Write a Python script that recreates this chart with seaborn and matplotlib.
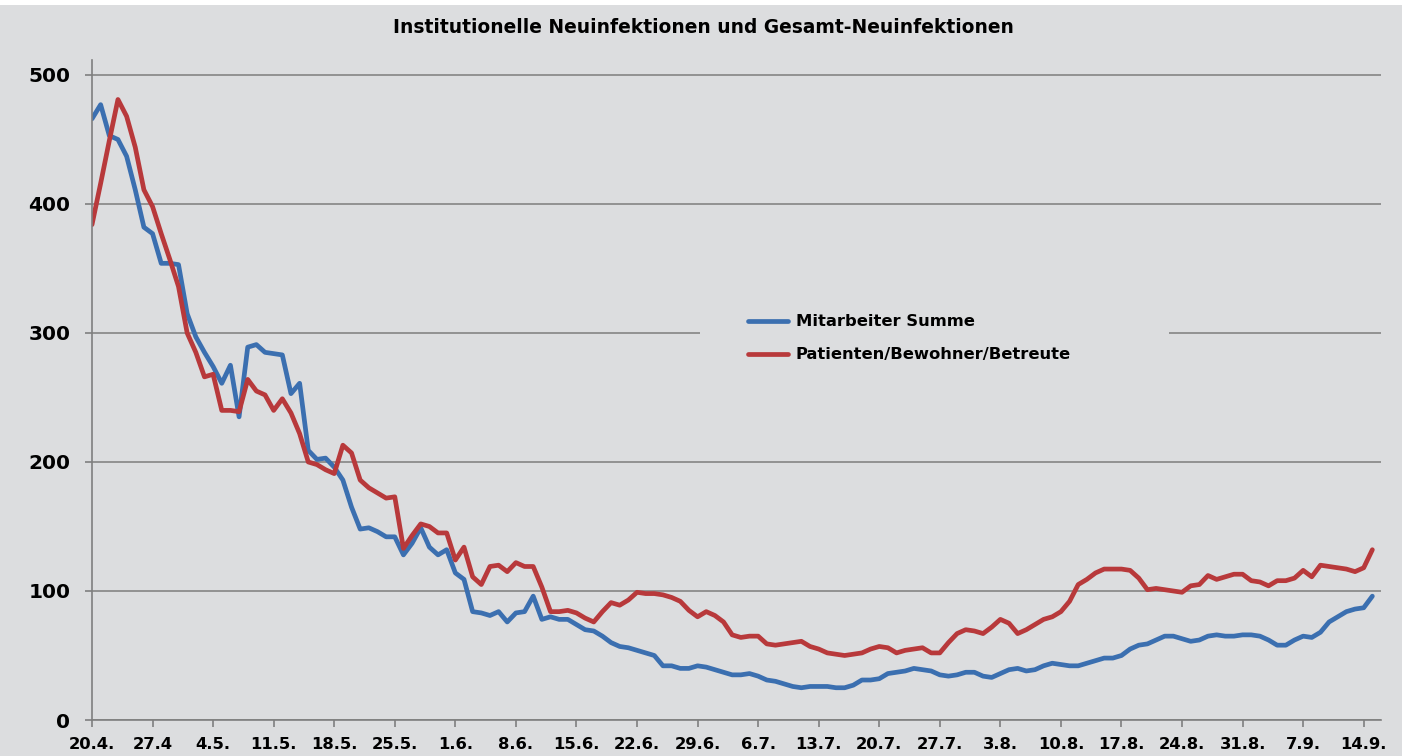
import pandas as pd
import matplotlib.pyplot as plt
from matplotlib.patches import Rectangle
from matplotlib.transforms import blended_transform_factory
import seaborn as sns

# daily values, 20.4. - 15.9.
mitarbeiter = [466, 477, 453, 450, 437, 411, 382, 377, 354, 354,
               353, 315, 297, 285, 274, 261, 275, 235, 289, 291,
               285, 284, 283, 253, 261, 209, 202, 203, 196, 186,
               165, 148, 149, 146, 142, 142, 128, 137, 149, 134,
               128, 132, 114, 109, 84, 83, 81, 84, 76, 83,
               84, 96, 78, 80, 78, 78, 74, 70, 69, 65,
               60, 57, 56, 54, 52, 50, 42, 42, 40, 40,
               42, 41, 39, 37, 35, 35, 36, 34, 31, 30,
               28, 26, 25, 26, 26, 26, 25, 25, 27, 31,
               31, 32, 36, 37, 38, 40, 39, 38, 35, 34,
               35, 37, 37, 34, 33, 36, 39, 40, 38, 39,
               42, 44, 43, 42, 42, 44, 46, 48, 48, 50,
               55, 58, 59, 62, 65, 65, 63, 61, 62, 65,
               66, 65, 65, 66, 66, 65, 62, 58, 58, 62,
               65, 64, 68, 76, 80, 84, 86, 87, 96]

patienten = [384, 416, 449, 481, 468, 444, 411, 398, 377, 357,
             336, 300, 285, 266, 268, 240, 240, 239, 264, 255,
             252, 240, 249, 238, 222, 200, 198, 194, 191, 213,
             207, 186, 180, 176, 172, 173, 133, 143, 152, 150,
             145, 145, 124, 134, 111, 105, 119, 120, 115, 122,
             119, 119, 103, 84, 84, 85, 83, 79, 76, 84,
             91, 89, 93, 99, 98, 98, 97, 95, 92, 85,
             80, 84, 81, 76, 66, 64, 65, 65, 59, 58,
             59, 60, 61, 57, 55, 52, 51, 50, 51, 52,
             55, 57, 56, 52, 54, 55, 56, 52, 52, 60,
             67, 70, 69, 67, 72, 78, 75, 67, 70, 74,
             78, 80, 84, 92, 105, 109, 114, 117, 117, 117,
             116, 110, 101, 102, 101, 100, 99, 104, 105, 112,
             109, 111, 113, 113, 108, 107, 104, 108, 108, 110,
             116, 111, 120, 119, 118, 117, 115, 118, 132]

serien = ['Mitarbeiter Summe', 'Patienten/Bewohner/Betreute']
farben = ['#3b6fb0', '#b8393b']
x_labels = ['20.4.', '27.4', '4.5.', '11.5.', '18.5.', '25.5.', '1.6.', '8.6.',
            '15.6.', '22.6.', '29.6.', '6.7.', '13.7.', '20.7.', '27.7.', '3.8.',
            '10.8.', '17.8.', '24.8.', '31.8.', '7.9.', '14.9.']
y_ticks = [0, 100, 200, 300, 400, 500]

tage = pd.date_range('2020-04-20', periods=len(mitarbeiter), freq='D')
df = pd.DataFrame({
    'Datum': list(tage) * 2,
    'Neuinfektionen': mitarbeiter + patienten,
    'Gruppe': [serien[0]] * len(tage) + [serien[1]] * len(tage),
})

sns.set_theme(style='white')
plt.rcParams['font.family'] = ['DejaVu Sans']
plt.rcParams['text.color'] = 'black'
bg = '#dcdddf'

fig = plt.figure(figsize=(14.1, 7.56), dpi=100, facecolor='white')
fig.patches.append(Rectangle((0, 0), 1402 / 1410, 751 / 756, transform=fig.transFigure,
                             facecolor=bg, edgecolor='none', zorder=-1))
ax = fig.add_axes([92 / 1410, 36 / 756, 1289 / 1410, 660.5 / 756])
ax.set_facecolor(bg)

sns.lineplot(data=df, x='Datum', y='Neuinfektionen', hue='Gruppe', hue_order=serien,
             palette=farben, linewidth=3.4, ax=ax)

ax.set_xlim(tage[0], tage[0] + pd.Timedelta(days=149))
ax.set_ylim(0, 512)
ax.set_xticks(tage[::7][:len(x_labels)])
ax.set_xticklabels(x_labels, fontsize=11.8, fontweight='bold')
ax.set_yticks(y_ticks)
ax.set_yticklabels([str(v) for v in y_ticks], fontsize=14.5, fontweight='bold')
ax.set_xlabel('')
ax.set_ylabel('')

ax.set_axisbelow(True)
ax.yaxis.grid(True, color='#7d7d7d', linewidth=1.1)
ax.xaxis.grid(False)
for s in ['top', 'right']:
    ax.spines[s].set_visible(False)
for s in ['left', 'bottom']:
    ax.spines[s].set_color('#7f7f7f')
    ax.spines[s].set_linewidth(1.2)
ax.tick_params(axis='both', bottom=True, left=True, direction='out', length=5,
               width=1.2, color='#7f7f7f', labelcolor='black')
ax.tick_params(axis='x', pad=7)
ax.tick_params(axis='y', pad=10.5)

# legend box hides the 300 gridline behind it
tr = blended_transform_factory(ax.transAxes, ax.transData)
ax.add_patch(Rectangle((0.4717, 290), 0.3638, 20, transform=tr,
                       facecolor=bg, edgecolor='none', zorder=1.5))
handles, labels = ax.get_legend_handles_labels()
ax.legend(handles, labels, loc='upper left', bbox_to_anchor=(0.5035, 0.624),
          frameon=False, prop={'weight': 'bold', 'size': 11.8}, handlelength=2.45,
          handletextpad=0.5, labelspacing=1.1, borderaxespad=0)

fig.text(0.499, 0.964, 'Institutionelle Neuinfektionen und Gesamt-Neuinfektionen',
         ha='center', va='center', fontsize=13.4, fontweight='bold', color='black')

fig.savefig('out.png', dpi=100, facecolor=fig.get_facecolor())
